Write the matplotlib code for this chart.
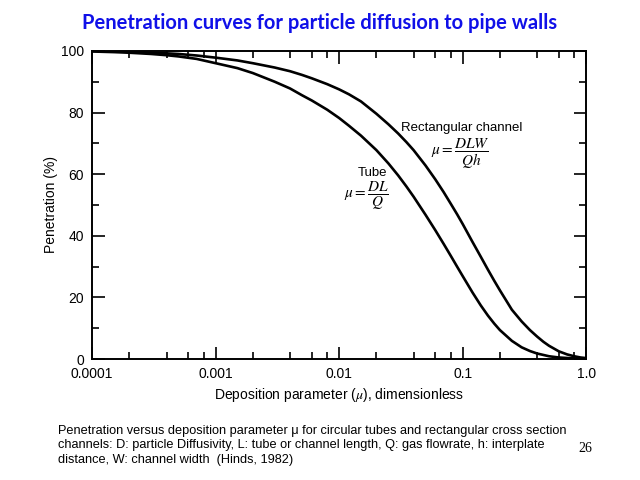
import matplotlib
matplotlib.use("Agg")
import matplotlib.pyplot as plt
from matplotlib.ticker import LogLocator, FixedLocator, NullFormatter

# values
tube_mu = [1e-4, 1.5e-4, 2e-4, 3e-4, 4e-4, 5e-4, 7e-4, 1e-3, 1.5e-3, 2e-3, 3e-3,
           4e-3, 5e-3, 6e-3, 8e-3, 0.01, 0.012, 0.015, 0.02, 0.025, 0.03, 0.035,
           0.04, 0.05, 0.06, 0.07, 0.08, 0.09, 0.1, 0.12, 0.14, 0.16, 0.18, 0.2,
           0.25, 0.3, 0.35, 0.4, 0.5, 0.6, 0.8, 1.0]
tube_pen = [99.8, 99.6, 99.4, 99.0, 98.6, 98.2, 97.4, 96.0, 94.4, 92.8, 90.0,
            87.8, 85.6, 83.9, 80.9, 78.2, 75.7, 72.5, 67.8, 63.5, 59.6, 56.0,
            52.7, 46.8, 41.8, 37.4, 33.5, 30.0, 26.9, 21.6, 17.4, 14.1, 11.5, 9.4,
            5.9, 3.8, 2.6, 1.8, 0.9, 0.5, 0.2, 0.1]

rect_mu = [1e-4, 1.5e-4, 2e-4, 3e-4, 4e-4, 5e-4, 7e-4, 1e-3, 1.5e-3, 2e-3, 3e-3,
           4e-3, 5e-3, 6e-3, 8e-3, 0.01, 0.012, 0.015, 0.02, 0.025, 0.03, 0.035,
           0.04, 0.05, 0.06, 0.07, 0.08, 0.09, 0.1, 0.12, 0.14, 0.16, 0.18, 0.2,
           0.25, 0.3, 0.35, 0.4, 0.45, 0.5, 0.6, 0.7, 0.8, 0.9, 1.0]
rect_pen = [100, 99.8, 99.7, 99.4, 99.2, 99.0, 98.5, 97.8, 96.9, 96.0, 94.6,
            93.4, 92.2, 91.1, 89.2, 87.5, 85.9, 83.6, 79.6, 76.2, 73.2, 70.4,
            67.8, 62.8, 58.3, 54.2, 50.4, 47.0, 43.8, 38.0, 33.2, 29.0, 25.4, 22.3,
            16.0, 12.2, 9.4, 7.3, 5.6, 4.3, 2.5, 1.5, 0.9, 0.5, 0.3]

x_ticks = [1e-4, 1e-3, 1e-2, 1e-1, 1.0]
x_labels = ["0.0001", "0.001", "0.01", "0.1", "1.0"]
y_ticks = [0, 20, 40, 60, 80, 100]

caption = ("Penetration versus deposition parameter \u03bc for circular tubes and rectangular cross section\n"
           "channels: D: particle Diffusivity, L: tube or channel length, Q: gas flowrate, h: interplate\n"
           "distance, W: channel width  (Hinds, 1982)")

plt.rcParams["font.family"] = ["Liberation Sans", "DejaVu Sans"]
plt.rcParams["mathtext.fontset"] = "stix"

fig = plt.figure(figsize=(6.4, 4.8), dpi=100)
fig.text(0.5, 0.952, "Penetration curves for particle diffusion to pipe walls",
         ha="center", va="center", color="#1010e8", fontsize=14.5,
         fontweight="bold", family=["Lato", "DejaVu Sans"])

ax = fig.add_axes([0.144, 0.252, 0.772, 0.642])
ax.plot(tube_mu, tube_pen, color="black", lw=1.9)
ax.plot(rect_mu, rect_pen, color="black", lw=1.9)
ax.set_xscale("log")
ax.set_xlim(1e-4, 1.0)
ax.set_ylim(0, 100)

ax.xaxis.set_major_locator(FixedLocator(x_ticks))
ax.set_xticklabels(x_labels)
ax.xaxis.set_minor_locator(LogLocator(base=10, subs=(2, 4, 6, 8)))
ax.xaxis.set_minor_formatter(NullFormatter())
ax.set_yticks(y_ticks)
ax.yaxis.set_minor_locator(FixedLocator([10, 30, 50, 70, 90]))

ax.tick_params(which="both", direction="in", top=True, right=True,
               width=1.2, labelsize=10, pad=6)
ax.tick_params(which="major", length=9)
ax.tick_params(which="minor", length=5)
for s in ax.spines.values():
    s.set_linewidth(1.4)

ax.set_xlabel("Deposition parameter ($\\mu$), dimensionless", fontsize=10, labelpad=3)
ax.set_ylabel("Penetration (%)", fontsize=10, labelpad=2)

ax.text(0.0318, 75.0, "Rectangular channel", fontsize=9.5, ha="left", va="center")
ax.text(0.096, 66.5, r"$\mu = \dfrac{DLW}{Qh}$", fontsize=11, ha="center", va="center")
ax.text(0.0185, 60.5, "Tube", fontsize=9.5, ha="center", va="center")
ax.text(0.0165, 53.0, r"$\mu = \dfrac{DL}{Q}$", fontsize=11, ha="center", va="center")

fig.text(0.09, 0.072, caption, fontsize=9.2, ha="left", va="center", linespacing=1.25)
fig.text(0.903, 0.065, "26", fontsize=10, ha="left", va="center",
         family=["Liberation Serif", "DejaVu Serif"])

fig.savefig("out.png", dpi=100)
